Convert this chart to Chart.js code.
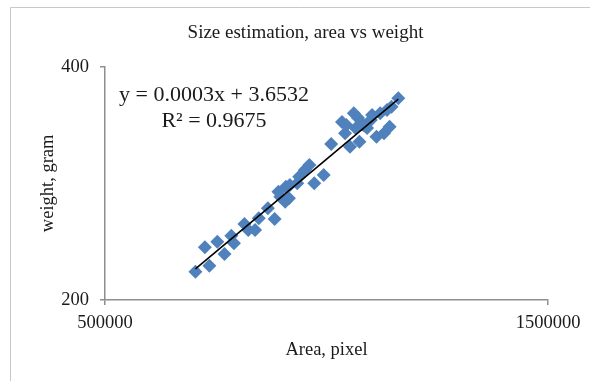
<!DOCTYPE html>
<html><head><meta charset="utf-8">
<script src="https://cdn.jsdelivr.net/npm/chart.js@4"></script>
<style>html,body{margin:0;padding:0;background:#fff;} #wrap{width:590px;height:381px;position:relative;}</style>
</head><body><div id="wrap"><canvas id="c" width="590" height="381"></canvas></div>
<script>
// ---- data ----
const areaPixel = [704200, 725500, 735600, 753500, 769800, 785200, 791000, 814800, 823400, 838800,
  847100, 867700, 882900, 891500, 895700, 906800, 908400, 915200, 917400, 934000,
  938300, 951200, 961300, 972400, 993700, 1010600, 1035000, 1041900, 1044800, 1053100,
  1061700, 1066000, 1071200, 1074400, 1083000, 1091600, 1100000, 1102900, 1112900, 1121200,
  1129800, 1136600, 1142500, 1146800, 1162100];
const weightGram = [224.3, 245.2, 229.4, 250.0, 239.4, 255.1, 248.6, 265.1, 260.0, 260.0,
  270.0, 278.6, 269.4, 292.8, 288.5, 284.3, 297.1, 287.2, 298.6, 300.0,
  305.7, 311.4, 315.7, 300.0, 307.1, 333.7, 352.6, 343.0, 350.0, 331.4,
  360.0, 347.2, 356.0, 335.7, 350.0, 347.4, 354.3, 358.6, 340.0, 360.0,
  342.9, 362.9, 348.6, 365.7, 372.9];
const xTickValues = [500000, 1500000];
const yTickValues = [200, 400];
const chartTitle = 'Size estimation, area vs weight';
const xTitle = 'Area, pixel';
const yTitle = 'weight, gram';
const eqLine1 = 'y = 0.0003x + 3.6532';
const eqLine2 = 'R\u00B2 = 0.9675';

// ---- least-squares trend line from the data ----
const n = areaPixel.length;
const mx = areaPixel.reduce((a,b)=>a+b,0)/n;
const my = weightGram.reduce((a,b)=>a+b,0)/n;
let sxy = 0, sxx = 0;
for (let i=0;i<n;i++){ sxy += (areaPixel[i]-mx)*(weightGram[i]-my); sxx += (areaPixel[i]-mx)**2; }
const slope = sxy/sxx, intercept = my - slope*mx;
const xMin = Math.min(...areaPixel), xMax = Math.max(...areaPixel);
const trend = [{x:xMin, y:slope*xMin+intercept}, {x:xMax, y:slope*xMax+intercept}];

const FONT = "'Liberation Serif', 'Times New Roman', serif";
const TXT = '#1a1a1a';
const AXIS = '#8e8e8e';

const decor = {
  id: 'decor',
  beforeDraw(chart){
    const ctx = chart.ctx;
    ctx.save();
    ctx.fillStyle = '#fff';
    ctx.fillRect(0,0,chart.width,chart.height);
    ctx.strokeStyle = '#c8c8c8';
    ctx.lineWidth = 1;
    ctx.beginPath();
    ctx.moveTo(10.5, chart.height); ctx.lineTo(10.5, 7.5); ctx.lineTo(chart.width, 7.5);
    ctx.stroke();
    ctx.restore();
  },
  afterDraw(chart){
    const ctx = chart.ctx;
    ctx.save();
    ctx.fillStyle = TXT;
    ctx.textAlign = 'center';
    ctx.textBaseline = 'middle';
    ctx.font = "19px " + FONT;
    ctx.fillText(chartTitle, 305.5, 33.5);
    ctx.font = "22px " + FONT;
    ctx.fillText(eqLine1, 214, 95);
    ctx.fillText(eqLine2, 214, 121);
    ctx.restore();
  }
};

const points = areaPixel.map((x,i)=>({x, y: weightGram[i]}));

new Chart(document.getElementById('c'), {
  type: 'scatter',
  data: { datasets: [
    { type:'line', data: trend, borderColor:'#000', borderWidth:1.6, pointRadius:0, showLine:true, fill:false, order:0 },
    { data: points, pointStyle:'rectRot', pointRadius:7, pointHoverRadius:7,
      backgroundColor:'#4F81BD', borderColor:'#4F81BD', borderWidth:0, order:1 }
  ]},
  options: {
    responsive:false, animation:false,
    layout:{ padding:{ left:0, right:42, top:66.7, bottom:0 } },
    plugins:{
      legend:{display:false}, tooltip:{enabled:false}, title:{display:false}
    },
    scales:{
      x:{ type:'linear', min:500000, max:1500000,
        afterBuildTicks(s){ s.ticks = xTickValues.map(v=>({value:v})); },
        afterFit(s){ s.height = 81; },
        ticks:{ color:TXT, font:{family:FONT, size:18.5}, padding:7, maxRotation:0, autoSkip:false, callback:v=>String(v) },
        grid:{ display:true, drawOnChartArea:false, drawTicks:true, tickLength:5, color:AXIS, lineWidth:1.5 },
        border:{ display:true, color:AXIS, width:1.5 },
        title:{ display:true, text:xTitle, color:TXT, font:{family:FONT, size:18.5}, padding:{top:0, bottom:20} }
      },
      y:{ type:'linear', min:200, max:400,
        afterBuildTicks(s){ s.ticks = yTickValues.map(v=>({value:v})); },
        afterFit(s){ s.width = 105; },
        ticks:{ color:TXT, font:{family:FONT, size:18.5}, padding:11, autoSkip:false, callback:v=>String(v) },
        grid:{ display:true, drawOnChartArea:false, drawTicks:true, tickLength:5, color:AXIS, lineWidth:1.5 },
        border:{ display:true, color:AXIS, width:1.5 },
        title:{ display:true, text:yTitle, color:TXT, font:{family:FONT, size:18.5}, padding:{top:37, bottom:0} }
      }
    }
  },
  plugins:[decor]
});
</script></body></html>
